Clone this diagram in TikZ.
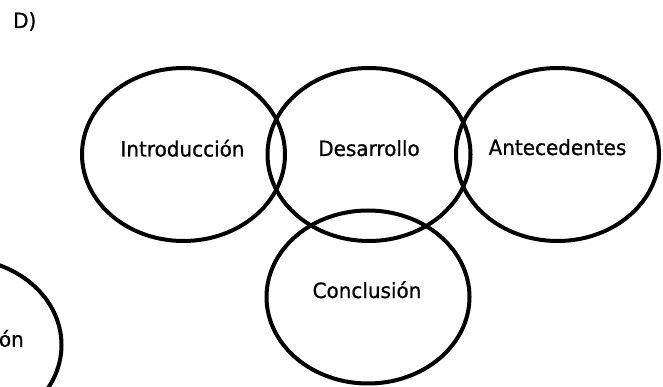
\documentclass[tikz,border=0pt]{standalone}
\usepackage{fontspec}
\usetikzlibrary{shapes.geometric}
\newfontfamily\labfont[FakeStretch=0.95,FakeBold=0.8]{DejaVu Sans}
\begin{document}
\begin{tikzpicture}[x=1pt,y=-1pt,
  ring/.style={draw=black, line width=4pt, ellipse, inner sep=0pt,
    minimum width=203pt, minimum height=173pt},
  lab/.style={font=\labfont\fontsize{21}{24}\selectfont, inner sep=0pt, anchor=base}]
\useasboundingbox (0,0) rectangle (663,387);
\node[lab, anchor=base west] (title) at (13,28) {D)};
\node[ring] (intro) at (183.5,154.5) {};
\node[ring] (desa) at (369,154.5) {};
\node[ring] (ante) at (557.5,154.5) {};
\node[ring] (conc) at (368,297) {};
\node[ring] (left) at (-40,345) {};
\node[lab] (tintro) at (182.5,156.5) {Introducción};
\node[lab] (tdesa) at (369,156) {Desarrollo};
\node[lab] (tante) at (557.5,155) {Antecedentes};
\node[lab] (tconc) at (367,298) {Conclusión};
\node[lab, anchor=base east] (tleft) at (24,346.7) {ón};
\end{tikzpicture}
\end{document}
